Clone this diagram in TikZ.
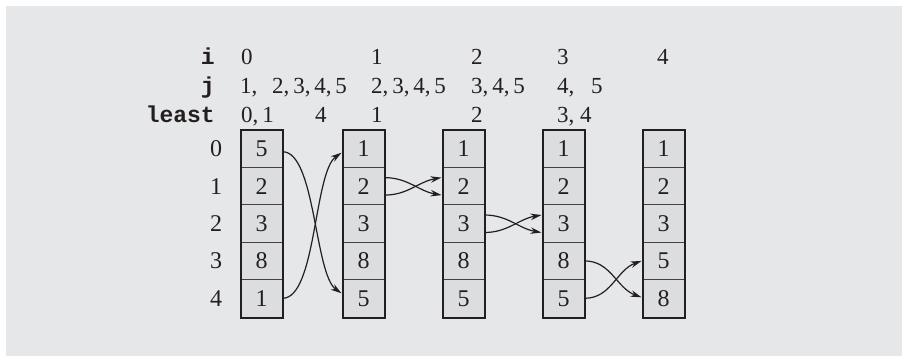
\documentclass[tikz,border=0pt]{standalone}
\usepackage{fontspec}
\setmainfont{Liberation Serif}
\setmonofont{Liberation Mono}
\usetikzlibrary{arrows.meta}
\definecolor{bg}{RGB}{230,231,232}
\definecolor{cellfill}{RGB}{220,221,222}
\definecolor{ink}{RGB}{35,31,32}
\begin{document}
\begin{tikzpicture}[x=1pt,y=-1pt,
  cell/.style={draw=ink!85, line width=1pt, fill=cellfill, minimum width=41pt, minimum height=37.4pt, inner sep=0pt, font=\fontsize{24}{26}\selectfont, text=ink},
  hd/.style={anchor=base west, inner sep=0pt, font=\fontsize{23}{25}\selectfont, text=ink},
  lbl/.style={anchor=base east, inner sep=0pt, font=\fontsize{23}{25}\selectfont\ttfamily\bfseries, text=ink},
  idx/.style={anchor=center, inner sep=0pt, font=\fontsize{24}{26}\selectfont, text=ink},
  arr/.style={-{Stealth[length=11pt,width=6.5pt]}, line width=1.2pt, draw=ink}
]
\useasboundingbox (0,0) rectangle (902,356);
\fill[bg] (6,6) rectangle (902,356);

% header labels
\node[lbl] (li) at (215,64) {i};
\node[lbl] (lj) at (215,93) {j};
\node[lbl] (ll) at (215,122) {least};

% i row
\node[hd] (i0) at (241,64) {0};
\node[hd] (i1) at (371,64) {1};
\node[hd] (i2) at (471,64) {2};
\node[hd] (i3) at (557,64) {3};
\node[hd] (i4) at (657,64) {4};

% j row
\node[hd] (j0) at (240,93) {1,};
\node[hd] (j1) at (272,93) {2,\,3,\,4,\,5};
\node[hd] (j2) at (371,93) {2,\,3,\,4,\,5};
\node[hd] (j3) at (471,93) {3,\,4,\,5};
\node[hd] (j4) at (557,93) {4,};
\node[hd] (j5) at (591,93) {5};

% least row
\node[hd] (l0) at (241,122) {0,\,1};
\node[hd] (l1) at (315,122) {4};
\node[hd] (l2) at (371,122) {1};
\node[hd] (l3) at (471,122) {2};
\node[hd] (l4) at (557,122) {3, 4};

% row indices
\foreach \r in {0,...,4}{
  \node[idx] (r\r) at (216,{148.7+37.4*\r}) {\r};
}

% columns
\foreach \col/\x/\vals in {1/261.5/{5,2,3,8,1},2/363.5/{1,2,3,8,5},3/463.5/{1,2,3,8,5},4/563.5/{1,2,3,8,5},5/663.5/{1,2,3,5,8}}{
  \foreach \v [count=\r from 0] in \vals {
    \node[cell] (c\col r\r) at (\x,{148.7+37.4*\r}) {\v};
  }
  \draw[ink, line width=2pt] (c\col r0.north west) rectangle (c\col r4.south east);
}

% swaps
\draw[arr] ([yshift=-3pt]c1r0.east) to[out=0,in=145,looseness=0.55] ([xshift=-1pt,yshift=5pt]c2r4.west);
\draw[arr] (c1r4.east) to[out=0,in=-145,looseness=0.55] ([xshift=-1pt,yshift=-4pt]c2r0.west);

\draw[arr] ([yshift=8.5pt]c2r1.east) to[out=0,in=170] ([xshift=-1pt,yshift=-9pt]c3r1.west);
\draw[arr] ([yshift=-9pt]c2r1.east) to[out=0,in=190] ([xshift=-1pt,yshift=8.5pt]c3r1.west);

\draw[arr] ([yshift=8.5pt]c3r2.east) to[out=0,in=170] ([xshift=-1pt,yshift=-9pt]c4r2.west);
\draw[arr] ([yshift=-9pt]c3r2.east) to[out=0,in=190] ([xshift=-1pt,yshift=8.5pt]c4r2.west);

\draw[arr] (c4r3.east) to[out=0,in=160] ([xshift=-1pt,yshift=1pt]c5r4.west);
\draw[arr] (c4r4.east) to[out=0,in=200] ([xshift=-1pt]c5r3.west);
\end{tikzpicture}
\end{document}
